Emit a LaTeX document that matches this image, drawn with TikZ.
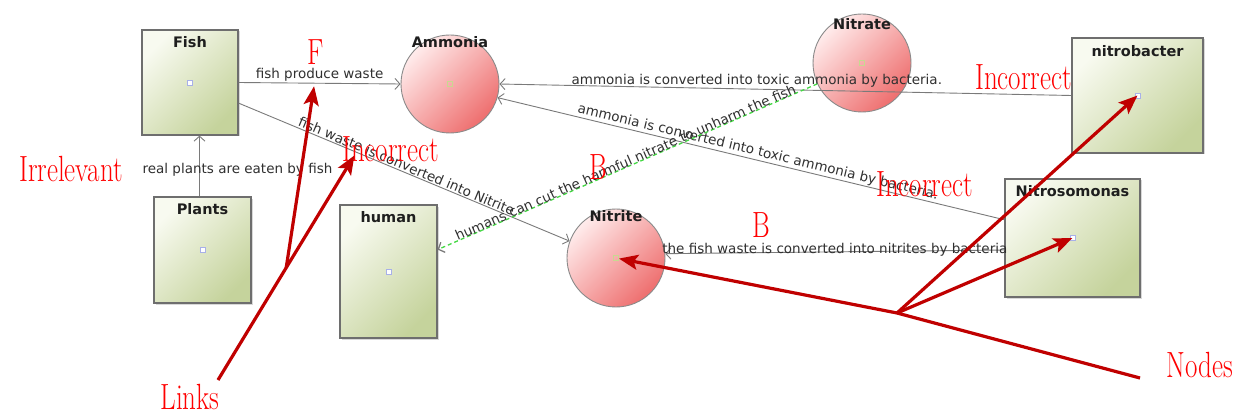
\documentclass[tikz,border=0pt]{standalone}
\usepackage{fontspec}
\newfontfamily\djs{DejaVu Sans}
\usetikzlibrary{arrows.meta,shadows,calc}
\definecolor{boxlight}{HTML}{F8FAF0}
\definecolor{boxdark}{HTML}{C5D39C}
\definecolor{boxedge}{HTML}{6E6E6E}
\definecolor{circlight}{HTML}{FFECEC}
\definecolor{circdark}{HTML}{EE6E6E}
\definecolor{circedge}{HTML}{8A8A8A}
\definecolor{annred}{HTML}{FF0000}
\definecolor{arrred}{HTML}{C00000}
\definecolor{linkgray}{HTML}{7A7A7A}
\definecolor{labelgray}{HTML}{303030}
\definecolor{dashgreen}{HTML}{44D844}
\definecolor{markblue}{HTML}{A8B0E8}
\definecolor{markgreen}{HTML}{C8D890}
\newcommand\vstretch[1]{\scalebox{1}[1.35]{#1}}
\tikzset{
  conceptbox/.style={rectangle, draw=boxedge, line width=1.2pt,
    top color=boxlight, bottom color=boxdark, shading angle=45, inner sep=0pt,
    drop shadow={shadow xshift=1.5pt, shadow yshift=-1.5pt, opacity=0.3}},
  conceptcirc/.style={circle, draw=circedge, line width=0.9pt, minimum size=98pt,
    top color=circlight, bottom color=circdark, shading angle=45, inner sep=0pt},
  title/.style={font=\djs\bfseries\fontsize{14.5}{16}\selectfont,
    text={rgb,255:red,30;green,30;blue,30}, inner sep=0pt},
  lab/.style={font=\djs\fontsize{13.5}{15}\selectfont, text=labelgray, inner sep=1pt},
  lnk/.style={draw=linkgray, line width=0.9pt, -{Straight Barb[length=5pt,width=11pt]}},
  greenlnk/.style={draw=dashgreen, line width=1.3pt, dash pattern=on 4pt off 3pt,
    -{Straight Barb[length=5pt,width=11pt,color=linkgray]}},
  markbox/.style={draw=markblue, line width=0.8pt, fill=white},
  markcirc/.style={draw=markgreen, line width=0.8pt},
  ann/.style={text=annred, inner sep=0pt, font=\fontsize{27}{30}\selectfont},
  ptr/.style={draw=arrred, line width=3.2pt, line join=round,
    -{Stealth[length=19pt,width=15pt,inset=4pt]}},
}
\begin{document}
\begin{tikzpicture}[x=1pt,y=-1pt]
\useasboundingbox[fill=white] (0,0) rectangle (1241,414);

% concept boxes
\node[conceptbox, minimum width=96pt, minimum height=105pt] (fish) at (190,82.5) {};
\node[conceptbox, minimum width=97pt, minimum height=106pt] (plants) at (202.5,250) {};
\node[conceptbox, minimum width=97pt, minimum height=133pt] (human) at (388.5,271.5) {};
\node[conceptbox, minimum width=131pt, minimum height=115pt] (nitrobacter) at (1137.5,95.5) {};
\node[conceptbox, minimum width=135pt, minimum height=118pt] (nitrosomonas) at (1072.5,238) {};

% concept circles
\node[conceptcirc] (ammonia) at (450,84) {};
\node[conceptcirc] (nitrate) at (862,63) {};
\node[conceptcirc] (nitrite) at (616,258) {};

% centre markers
\foreach \n in {fish,plants,human,nitrobacter,nitrosomonas}
  \draw[markbox] ([shift={(-2.5pt,-2.5pt)}]\n.center) rectangle ++(5pt,5pt);
\foreach \n in {ammonia,nitrate,nitrite}
  \draw[markcirc] ([shift={(-2.5pt,-2.5pt)}]\n.center) rectangle ++(5pt,5pt);

% titles
\node[title] (fishT) at ([yshift=-13pt]fish.north) {Fish};
\node[title] (plantsT) at ([yshift=-13pt]plants.north) {Plants};
\node[title] (humanT) at ([yshift=-13pt]human.north) {human};
\node[title] (nitrobacterT) at ([yshift=-14pt]nitrobacter.north) {nitrobacter};
\node[title] (nitrosomonasT) at ([yshift=-13pt]nitrosomonas.north) {Nitrosomonas};
\node[title] (ammoniaT) at ([yshift=-8pt]ammonia.north) {Ammonia};
\node[title] (nitrateT) at ([yshift=-11pt]nitrate.north) {Nitrate};
\node[title] (nitriteT) at ([yshift=-8pt]nitrite.north) {Nitrite};

% links
\draw[lnk] (fish.east) -- node[lab, above, midway] {fish produce waste}
  coordinate[pos=0.466] (fa) (ammonia.west);
\draw[lnk] ([xshift=-3pt]plants.north) -- node[lab, pos=0.44, xshift=38pt] {real plants are eaten by fish}
  ([xshift=-3pt]plants.north |- fish.south);
\draw[lnk] (fish.-23) -- node[lab, sloped, above, pos=0.5] {fish waste is converted into Nitrite}
  coordinate[pos=0.35] (fn) (nitrite.160);
\draw[lnk] (nitrobacter.west) -- node[lab, above, pos=0.55] {ammonia is converted into toxic ammonia by bacteria.}
  (ammonia.east);
\draw[lnk] (nitrosomonas.165) -- node[lab, sloped, above, pos=0.49] {ammonia is converted into toxic ammonia by bacteria.}
  (ammonia.-16);
\draw[lnk] (nitrosomonas.190) -- node[lab, midway, yshift=2pt] {the fish waste is converted into nitrites by bacteria}
  (nitrite.5);
\draw[greenlnk] (nitrate.205) -- node[lab, sloped, above=-2pt, midway] {humans can cut the harmful nitrate to unharm the fish}
  (human.24);

% red annotations
\node[ann] (annF) at (316,52.5) {\vstretch{F}};
\node[ann] (annInc1) at (390.5,149.5) {\vstretch{Incorrect}};
\node[ann] (annIrr) at (71,168.5) {\vstretch{Irrelevant}};
\node[ann] (annB1) at (598.5,167.5) {\vstretch{B}};
\node[ann] (annB2) at (761.5,225) {\vstretch{B}};
\node[ann] (annInc2) at (1023.5,77.5) {\vstretch{Incorrect}};
\node[ann] (annInc3) at (924.5,184) {\vstretch{Incorrect}};
\node[ann] (annLinks) at (190,396.5) {\vstretch{Links}};
\node[ann] (annNodes) at (1200,364.5) {\vstretch{Nodes}};

% red pointers
\coordinate (linksStart) at (218,380);
\draw[ptr] (linksStart) -- coordinate[pos=0.5] (lfork) ([yshift=-4pt]fn);
\draw[ptr] (lfork) -- ([yshift=-3pt]fa);
\coordinate (nodesStart) at (1140,378);
\coordinate (nfork) at (897,313);
\draw[ptr, shorten >=3pt] (nodesStart) -- (nfork) -- (nitrite.center);
\draw[ptr] (nfork) -- (nitrosomonas.center);
\draw[ptr] (nfork) -- (nitrobacter.center);
\end{tikzpicture}
\end{document}
